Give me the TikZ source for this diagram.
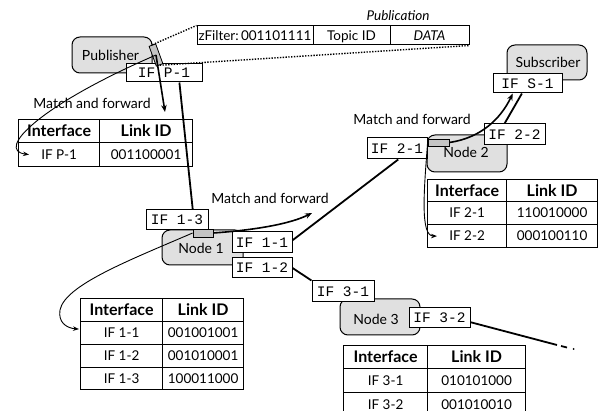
\documentclass[tikz,border=0pt]{standalone}
\usepackage{fontspec}
\setmainfont{Lato}
\newfontfamily\ifmono{Liberation Mono}
\usetikzlibrary{arrows.meta,calc}
\definecolor{nodegray}{HTML}{E0E0E0}
\definecolor{tabgray}{HTML}{C4C4C4}
\begin{document}
\begin{tikzpicture}[x=1pt,y=-1pt,
  gbox/.style={draw, fill=nodegray, rounded corners=8pt, line width=1pt, inner sep=0pt},
  ifbox/.style={draw, fill=white, line width=1pt, inner sep=0pt, font=\ifmono\fontsize{14.5}{16}\selectfont},
  tabbox/.style={draw, fill=tabgray, line width=0.8pt, inner sep=0pt},
  cell/.style={draw, line width=1.2pt, inner sep=0pt, anchor=north west, text height=9.6pt, text depth=0pt, font=\fontsize{13.5}{15}\selectfont},
  hcell/.style={cell, text height=11pt, font=\bfseries\fontsize{16}{18}\selectfont},
  lbl/.style={inner sep=0pt, text height=10pt, text depth=0pt, font=\fontsize{14}{16}\selectfont},
  pbox/.style={draw, fill=white, line width=1pt, inner sep=0pt, minimum height=19pt, text height=9.5pt, text depth=0pt, font=\fontsize{13.5}{15}\selectfont},
  link/.style={line width=1.8pt},
  fwd/.style={line width=1.6pt, -{Stealth[length=7pt,width=5.5pt]}},
  back/.style={line width=0.9pt, -{Stealth[length=6pt,width=4.5pt]}},
  dots/.style={line width=1.4pt, dash pattern=on 1.4pt off 1.4pt}
]
\fill[white] (0,0) rectangle (598,411);
\useasboundingbox (0,0) rectangle (598,411);

% gray boxes
\node[gbox, minimum width=80pt, minimum height=36pt] (pub) at (112,55) {};
\node[gbox, minimum width=81pt, minimum height=35pt] (n1) at (202.5,247.5) {};
\node[gbox, minimum width=80pt, minimum height=37pt] (n2) at (467,153.5) {};
\node[gbox, minimum width=80pt, minimum height=35pt] (sub) at (547,62.5) {};
\node[gbox, minimum width=80pt, minimum height=36pt] (n3) at (380,317) {};
\node[lbl] (publab) at (110.5,56) {Publisher};
\node[lbl] (n1lab) at (201,248.5) {Node 1};
\node[lbl] (n2lab) at (466,153) {Node 2};
\node[lbl] (n3lab) at (376,320) {Node 3};
\node[lbl] (sublab) at (548,63) {Subscriber};

% link end coordinates
\coordinate (tail) at (557,345);
\coordinate (tailA) at (561,346);
\coordinate (tailB) at (567,347.5);
\coordinate (tailC) at (573.5,349);

% interface boxes
\node[ifbox, minimum width=76pt, minimum height=18pt] (ifp1) at (164,73) {IF P-1};
\node[ifbox, minimum width=62pt, minimum height=20pt] (if13) at (177,220) {IF 1-3};
\node[ifbox, minimum width=60pt, minimum height=21pt] (if11) at (262,242.5) {IF 1-1};
\node[ifbox, minimum width=60pt, minimum height=20pt] (if12) at (262,268) {IF 1-2};
\node[ifbox, minimum width=60pt, minimum height=21pt] (if21) at (397,148.5) {IF 2-1};
\node[ifbox, minimum width=61pt, minimum height=21pt] (if22) at (514.5,134.5) {IF 2-2};
\node[ifbox, minimum width=69pt, minimum height=19pt] (ifs1) at (527.5,83.5) {IF S-1};
\node[ifbox, minimum width=62pt, minimum height=21pt] (if31) at (343,291.5) {IF 3-1};
\node[ifbox, minimum width=61pt, minimum height=20pt] (if32) at (439.5,318) {IF 3-2};

\draw[link] ($(ifp1.south west)!0.7!(ifp1.south east)$) -- ($(if13.north west)!0.75!(if13.north east)$);
\draw[link] ($(if11.north east)!0.4!(if11.south east)$) -- ($(if21.south west)!0.52!(if21.south east)$);
\draw[link] ($(if12.north east)!0.5!(if12.south east)$) -- (if31.north west);
\draw[link] ($(if22.north west)!0.34!(if22.north east)$) -- ($(ifs1.south west)!0.42!(ifs1.south east)$);
\draw[link] ($(if32.north east)!0.7!(if32.south east)$) -- (tail);
\draw[link] (tailA) -- (tailB);
\fill (tailC) circle (1pt);

% tabs
\node[tabbox, minimum width=7pt, minimum height=21pt, rotate=20] (ptab) at (156,55) {};
\node[tabbox, minimum width=20pt, minimum height=8pt] (n1tab) at (203,233) {};
\node[tabbox, minimum width=21pt, minimum height=7pt] (n2tab) at (438.5,142.5) {};

% publication header
\node[lbl, font=\itshape\fontsize{13.5}{15}\selectfont] (pubt) at (398,16) {Publication};
\node[pbox, minimum width=116pt] (zf) at (255,35.5) {zFilter:\,001101111};
\node[pbox, minimum width=77pt] (topic) at (351.5,35.5) {Topic ID};
\node[pbox, minimum width=79pt, font=\itshape\fontsize{13.5}{15}\selectfont] (data) at (429.5,35.5) {DATA};
\draw[dots] (ptab.north) -- (zf.north west);
\draw[dots] (ptab.south) -- (data.south east);

% forwarding arrows
\coordinate (pfwd) at (165,112);
\coordinate (n1fwd) at (312,213);
\draw[fwd] (ptab.center) -- (pfwd);
\draw[fwd] (n1tab.east) .. controls (255,230) and (290,224) .. (n1fwd);
\draw[fwd] (n2tab.east) .. controls (480,138) and (500,120) .. ($(ifs1.south west)!0.29!(ifs1.south east)$);

\node[lbl] (mf0) at (92,104) {Match and forward};
\node[lbl] (mf1) at (270,199) {Match and forward};
\node[lbl] (mf2) at (412,120) {Match and forward};

% tables
\node[hcell, minimum width=81pt, minimum height=23pt] (pa1) at (18,119) {Interface};
\node[hcell, minimum width=93pt, minimum height=23pt] (pb1) at (99,119) {Link ID};
\node[cell, minimum width=81pt, minimum height=24pt] (pa2) at (18,142) {IF P-1};
\node[cell, minimum width=93pt, minimum height=24pt] (pb2) at (99,142) {001100001};

\node[hcell, minimum width=82pt, minimum height=23pt] (t1a1) at (80,298) {Interface};
\node[hcell, minimum width=81pt, minimum height=23pt] (t1b1) at (162,298) {Link ID};
\node[cell, minimum width=82pt, minimum height=23pt] (t1a2) at (80,321) {IF 1-1};
\node[cell, minimum width=81pt, minimum height=23pt] (t1b2) at (162,321) {001001001};
\node[cell, minimum width=82pt, minimum height=23pt] (t1a3) at (80,344) {IF 1-2};
\node[cell, minimum width=81pt, minimum height=23pt] (t1b3) at (162,344) {001010001};
\node[cell, minimum width=82pt, minimum height=22pt] (t1a4) at (80,367) {IF 1-3};
\node[cell, minimum width=81pt, minimum height=22pt] (t1b4) at (162,367) {100011000};

\node[hcell, minimum width=79pt, minimum height=22pt] (t2a1) at (427,179) {Interface};
\node[hcell, minimum width=91pt, minimum height=22pt] (t2b1) at (506,179) {Link ID};
\node[cell, minimum width=79pt, minimum height=23pt] (t2a2) at (427,201) {IF 2-1};
\node[cell, minimum width=91pt, minimum height=23pt] (t2b2) at (506,201) {110010000};
\node[cell, minimum width=79pt, minimum height=23pt] (t2a3) at (427,224) {IF 2-2};
\node[cell, minimum width=91pt, minimum height=23pt] (t2b3) at (506,224) {000100110};

\node[hcell, minimum width=84pt, minimum height=23pt] (t3a1) at (343,345) {Interface};
\node[hcell, minimum width=98pt, minimum height=23pt] (t3b1) at (427,345) {Link ID};
\node[cell, minimum width=84pt, minimum height=24pt] (t3a2) at (343,368) {IF 3-1};
\node[cell, minimum width=98pt, minimum height=24pt] (t3b2) at (427,368) {010101000};
\node[cell, minimum width=84pt, minimum height=24pt] (t3a3) at (343,392) {IF 3-2};
\node[cell, minimum width=98pt, minimum height=24pt] (t3b3) at (427,392) {001010010};

% back-pointing curves into the tables
\draw[back] (ptab.center) .. controls (40,105) and (-5,150) .. ($(pa2.west)+(11,0)$);
\draw[back] (n1tab.west) .. controls (130,260) and (65,285) .. (60,310) .. controls (58,322) and (66,328) .. ($(t1a2.west)+(-1,-4)$);
\draw[back] (n2tab.west) .. controls (424,190) and (420,236) .. ($(t2a3.west)+(10,0)$);
\end{tikzpicture}
\end{document}
